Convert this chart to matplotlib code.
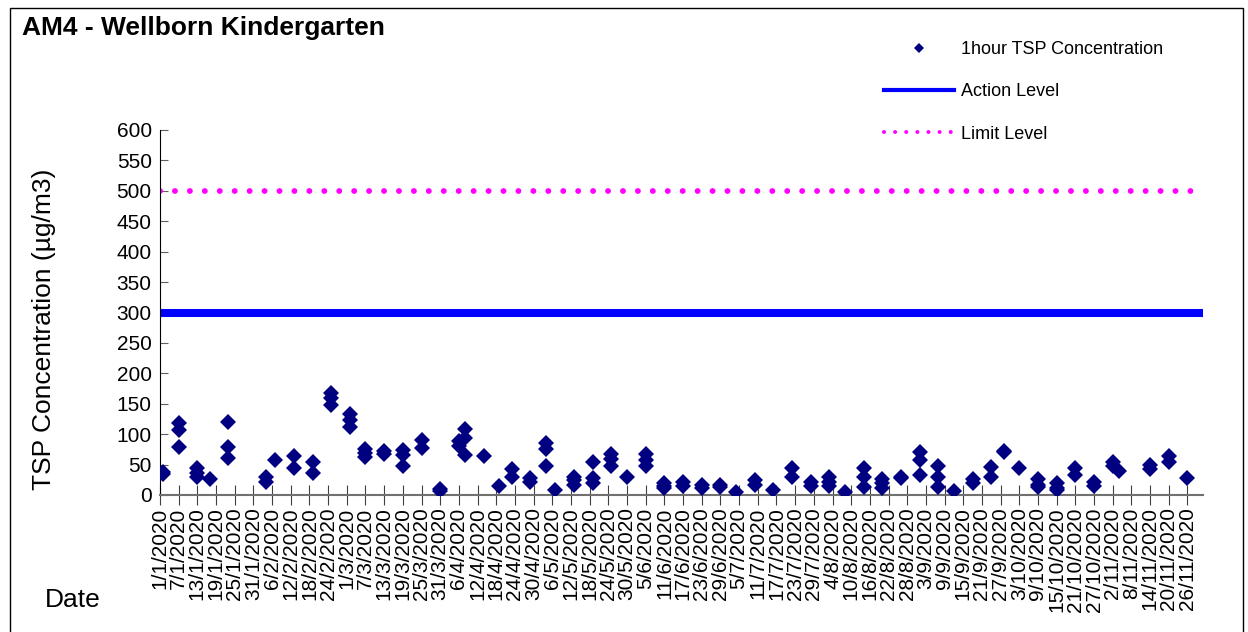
import numpy as np
import pandas as pd
import matplotlib
matplotlib.use('Agg')
import matplotlib.pyplot as plt
from matplotlib.lines import Line2D
from matplotlib.patches import Rectangle

plt.rcParams['font.family'] = ['Liberation Sans', 'DejaVu Sans']

# sampling days (days after 1/1/2020) and 1-hour TSP readings (ug/m3)
sample_days = [1, 1,
               6, 6, 6,
               12, 12, 12,
               16,
               22, 22, 22,
               34, 34,
               37,
               43, 43,
               49, 49,
               55, 55, 55,
               61, 61, 61,
               66, 66, 66,
               72, 72,
               78, 78, 78,
               84, 84,
               90, 90,
               96, 96,
               98, 98, 98,
               104,
               109,
               113, 113,
               119, 119,
               124, 124, 124,
               127,
               133, 133, 133,
               139, 139, 139,
               145, 145, 145,
               150,
               156, 156, 156,
               162, 162, 162,
               168, 168,
               174, 174,
               180, 180,
               185,
               191, 191,
               197,
               203, 203,
               209, 209,
               215, 215, 215,
               220,
               226, 226, 226,
               232, 232, 232,
               238, 238,
               244, 244, 244,
               250, 250, 250,
               255,
               261, 261,
               267, 267,
               271, 271,
               276,
               282, 282, 282,
               288, 288, 288,
               294, 294,
               300, 300,
               306, 306,
               308,
               318, 318,
               324, 324,
               330]
tsp_values = [38, 34,
              119, 107, 79,
              44, 36, 30,
              26,
              120, 79, 61,
              30, 22,
              58,
              64, 44,
              54, 36,
              168, 160, 148,
              133, 124, 111,
              75, 69, 63,
              72, 68,
              74, 65, 47,
              90, 77,
              10, 7,
              88, 80,
              108, 94, 65,
              64,
              15,
              43, 30,
              28, 22,
              86, 75, 47,
              8,
              30, 25, 17,
              54, 28, 20,
              67, 59, 48,
              30,
              68, 58, 47,
              19, 15, 12,
              22, 15,
              17, 11,
              17, 13,
              5,
              25, 17,
              9,
              44, 30,
              22, 14,
              30, 22, 14,
              5,
              44, 30, 13,
              26, 19, 11,
              30, 28,
              70, 57, 33,
              47, 30, 13,
              7,
              26, 19,
              46, 30,
              72, 70,
              44,
              26, 17, 13,
              19, 11, 8,
              44, 33,
              22, 15,
              55, 47,
              39,
              50, 43,
              64, 54,
              28]

action_level = 300
limit_level = 500

start_date = pd.Timestamp('2020-01-01')
end_date = pd.Timestamp('2020-12-01')
tick_dates = pd.date_range('2020-01-01', '2020-11-26', freq='6D')
tick_labels = [f'{d.day}/{d.month}/{d.year}' for d in tick_dates]

dates = start_date + pd.to_timedelta(sample_days, unit='D')

fig = plt.figure(figsize=(12.48, 6.32), dpi=100)
ax = fig.add_axes([160 / 1248, 1 - 495 / 632, 1043 / 1248, 365 / 632])

ax.plot(dates, tsp_values, linestyle='none', marker='D', markersize=8.5,
        color='#000080', markeredgewidth=0, zorder=3)
ax.plot([start_date, end_date], [action_level, action_level], color='#0000FF',
        linewidth=5.8, solid_capstyle='butt', zorder=2)
ax.plot([start_date, end_date], [limit_level, limit_level], color='#FF00FF',
        linewidth=4.2, linestyle=(0, (0.01, 2.55)), dash_capstyle='round', zorder=2)

ax.set_xlim(start_date, end_date)
ax.set_ylim(0, 600)
ax.set_yticks(np.arange(0, 601, 50))
ax.set_xticks(tick_dates)
ax.set_xticklabels(tick_labels, rotation=90, fontsize=15)
ax.tick_params(axis='y', labelsize=15, direction='in', length=6, pad=6, color='#606060')
ax.tick_params(axis='x', direction='inout', length=14, pad=2, color='#404040')

for side in ['top', 'right']:
    ax.spines[side].set_visible(False)
ax.spines['left'].set_color('black')
ax.spines['bottom'].set_color('#707070')
ax.spines['bottom'].set_linewidth(1.5)

ax.set_ylabel('TSP Concentration (µg/m3)', fontsize=19)
ax.yaxis.set_label_coords(-0.10, 0.455)

fig.text(22 / 1248, 1 - 28 / 632, 'AM4 - Wellborn Kindergarten', fontsize=19,
         fontweight='bold', va='center', ha='left')
fig.text(45 / 1248, 1 - 600 / 632, 'Date', fontsize=19, va='center', ha='left')

handles = [Line2D([], [], linestyle='none', marker='D', markersize=5,
                  color='#000080', markeredgewidth=0),
           Line2D([], [], color='#0000FF', linewidth=3),
           Line2D([], [], color='#FF00FF', linewidth=2.9, linestyle=(0, (0.01, 2.75)),
                  dash_capstyle='round')]
fig.legend(handles, ['1hour TSP Concentration', 'Action Level', 'Limit Level'],
           loc='upper left', bbox_to_anchor=(884 / 1248, 1 - 41 / 632),
           frameon=False, fontsize=13, handlelength=3.9, handletextpad=0.35,
           labelspacing=1.4, borderpad=0, borderaxespad=0)

fig.patches.append(Rectangle((10 / 1248, -0.01), 1233 / 1248, 1 - 8 / 632 + 0.01,
                             transform=fig.transFigure, fill=False,
                             edgecolor='black', linewidth=1))

fig.savefig('out.png', dpi=100)
